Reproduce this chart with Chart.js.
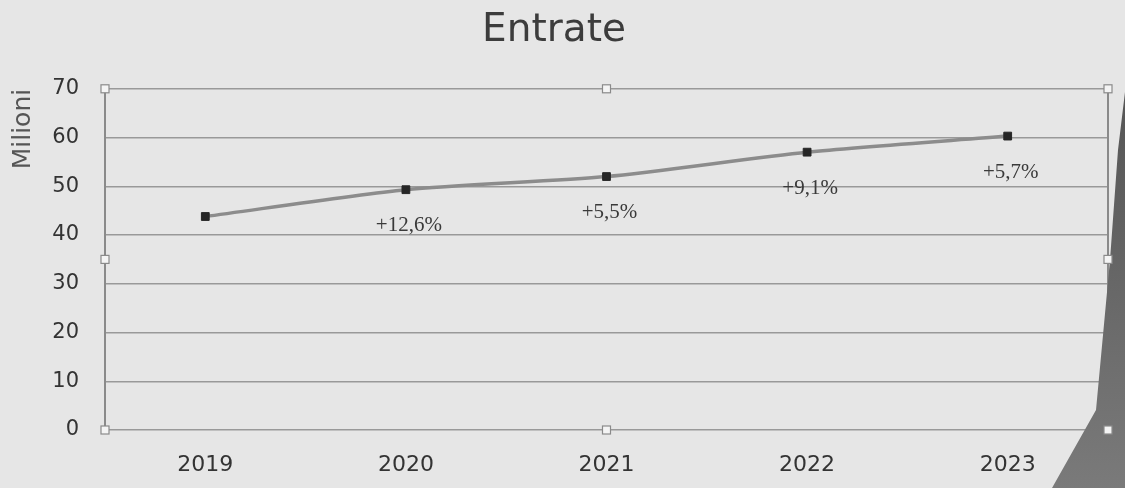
<!DOCTYPE html>
<html>
<head>
<meta charset="utf-8">
<script src="https://cdn.jsdelivr.net/npm/chart.js@4"></script>
<style>
  html, body { margin: 0; padding: 0; background: #e6e6e6; }
  #wrap { width: 1125px; height: 488px; }
</style>
</head>
<body>
<div id="wrap"><canvas id="chart" width="1125" height="488"></canvas></div>
<script>
var years = ['2019', '2020', '2021', '2022', '2023'];
var entrate = [43.8, 49.3, 52.0, 57.0, 60.3];
var growth = ['', '+12,6%', '+5,5%', '+9,1%', '+5,7%'];
var yTicks = [0, 10, 20, 30, 40, 50, 60, 70];

// percent labels under each point
var growthLabels = {
    id: 'growthLabels',
    afterDatasetsDraw: function(chart) {
        var ctx = chart.ctx;
        var xs = chart.scales.x, ys = chart.scales.y;
        ctx.save();
        ctx.font = '21px "Liberation Serif", serif';
        ctx.fillStyle = '#3a3a3a';
        ctx.textAlign = 'center';
        ctx.textBaseline = 'middle';
        for (var i = 0; i < growth.length; i++) {
            if (!growth[i]) continue;
            ctx.fillText(growth[i], xs.getPixelForValue(i) + 3, ys.getPixelForValue(entrate[i]) + 36);
        }
        ctx.restore();
    }
};

// frame, selection handles and the dark wedge at the right
var decor = {
    id: 'decor',
    beforeDraw: function(chart) {
        var ctx = chart.ctx;
        ctx.save();
        ctx.fillStyle = '#e6e6e6';
        ctx.fillRect(0, 0, chart.width, chart.height);
        ctx.restore();
    },
    afterDraw: function(chart) {
        var ctx = chart.ctx, a = chart.chartArea;
        ctx.save();
        ctx.strokeStyle = '#8a8a8a';
        ctx.lineWidth = 2;
        ctx.beginPath();
        ctx.moveTo(a.right, a.top);
        ctx.lineTo(a.right, a.bottom);
        ctx.stroke();
        // wedge
        var g = ctx.createLinearGradient(0, 90, 0, 488);
        g.addColorStop(0, '#555');
        g.addColorStop(1, '#7a7a7a');
        ctx.fillStyle = g;
        ctx.beginPath();
        ctx.moveTo(1125, 92);
        ctx.lineTo(1118, 150);
        ctx.lineTo(1110, 260);
        ctx.lineTo(1096, 410);
        ctx.lineTo(1052, 488);
        ctx.lineTo(1125, 488);
        ctx.closePath();
        ctx.fill();
        // handles
        var midX = (a.left + a.right) / 2, midY = (a.top + a.bottom) / 2;
        var pts = [[a.left, a.top], [midX, a.top], [a.right, a.top], [a.left, midY], [a.right, midY],
                   [a.left, a.bottom], [midX, a.bottom], [a.right, a.bottom]];
        ctx.fillStyle = '#f4f4f4';
        ctx.strokeStyle = '#8a8a8a';
        ctx.lineWidth = 1.2;
        pts.forEach(function(p) {
            ctx.fillRect(p[0] - 4, p[1] - 4, 8, 8);
            ctx.strokeRect(p[0] - 4, p[1] - 4, 8, 8);
        });
        ctx.restore();
    }
};

new Chart(document.getElementById('chart'), {
    type: 'line',
    data: {
        labels: years,
        datasets: [{
            label: 'Entrate',
            data: entrate,
            borderColor: '#8c8c8c',
            borderWidth: 3.5,
            tension: 0.25,
            pointStyle: 'rect',
            pointRadius: 5.5,
            pointBackgroundColor: '#262626',
            pointBorderColor: '#262626',
            pointBorderWidth: 1
        }]
    },
    plugins: [decor, growthLabels],
    options: {
        responsive: false,
        animation: false,
        layout: { padding: { top: 0, right: 17, bottom: 8, left: 0 } },
        plugins: {
            legend: { display: false },
            tooltip: { enabled: false },
            title: {
                display: true,
                text: 'Entrate',
                color: '#3c3c3c',
                font: { family: '"DejaVu Sans", sans-serif', size: 39, weight: 'normal' },
                padding: { top: 7, bottom: 35 }
            }
        },
        scales: {
            x: {
                offset: true,
                afterFit: function(axis) { axis.height = 50; },
                grid: { display: false, drawTicks: false },
                border: { display: false },
                ticks: {
                    color: '#333',
                    padding: 22,
                    font: { family: '"DejaVu Sans", sans-serif', size: 22 }
                }
            },
            y: {
                min: 0,
                max: 70,
                afterBuildTicks: function(axis) {
                    axis.ticks = yTicks.map(function(v) { return { value: v }; });
                },
                afterFit: function(axis) { axis.width = 105; },
                grid: { color: '#999', lineWidth: 1.5, drawTicks: false },
                border: { color: '#8a8a8a', width: 2 },
                ticks: {
                    color: '#333',
                    padding: 26,
                    font: { family: '"DejaVu Sans", sans-serif', size: 21 }
                },
                title: {
                    display: true,
                    text: 'Milioni',
                    align: 'end',
                    color: '#555',
                    padding: { top: 8, bottom: 4 },
                    font: { family: '"DejaVu Sans", sans-serif', size: 25 }
                }
            }
        }
    }
});
</script>
</body>
</html>
